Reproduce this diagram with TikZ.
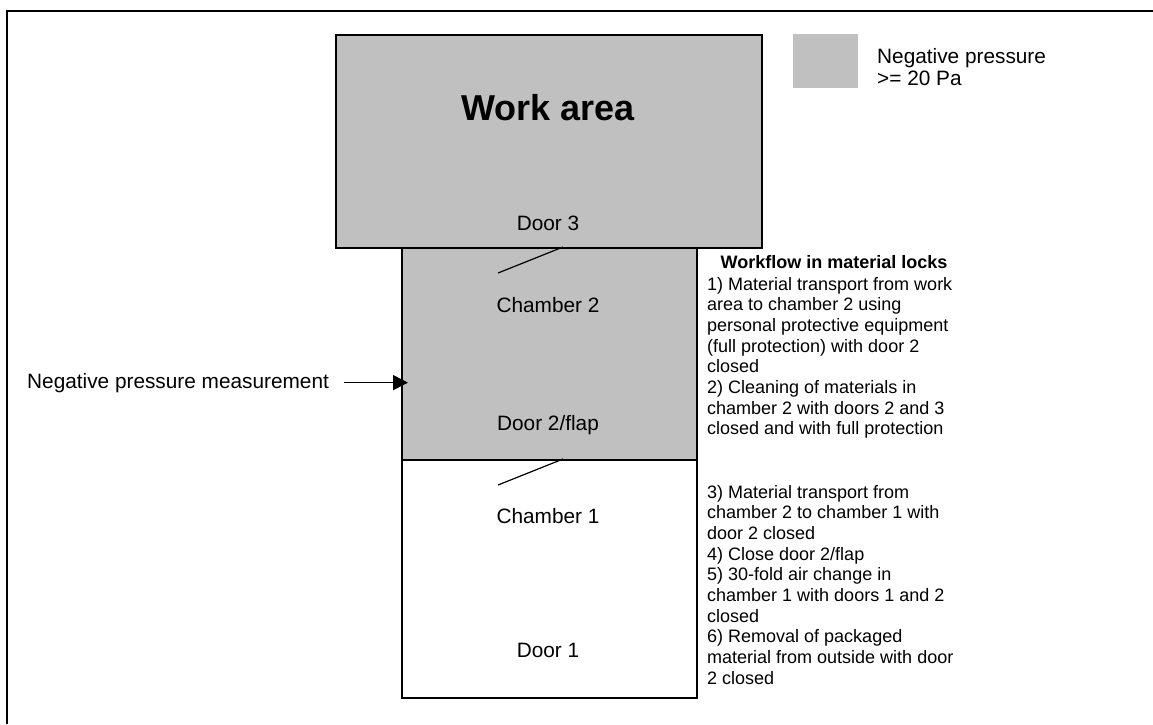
\documentclass[tikz,border=0pt]{standalone}
\usepackage{fontspec}
\setmainfont{Liberation Sans}
\usetikzlibrary{arrows.meta}
\definecolor{zone}{HTML}{C0C0C0}
\begin{document}
\begin{tikzpicture}[x=1pt,y=-1pt,
  room/.style={draw=black,line width=1.6pt,inner sep=0pt,anchor=north west},
  lbl/.style={font=\fontsize{20.8}{22}\selectfont,inner sep=0pt,anchor=base},
  flow/.style={font=\fontsize{18}{20.65}\selectfont,align=left,inner sep=0pt,anchor=north west},
  doorline/.style={line width=1.2pt},
  pointer/.style={line width=1.5pt,-{Triangle[length=15pt,width=15pt]}}]
\useasboundingbox (0,0) rectangle (1153,724);
\draw[line width=1.6pt] (7,724) -- (7,11) -- (1153,11);
% legend
\node[fill=zone,minimum width=65pt,minimum height=54pt,inner sep=0pt,anchor=north west] (key) at (793,34) {};
\node[font=\fontsize{20.8}{22}\selectfont,align=left,inner sep=0pt,anchor=north west] (keytext) at (877,48.5) {Negative pressure\\>= 20 Pa};
% rooms
\node[room,fill=zone,minimum width=426pt,minimum height=213pt] (work) at (335,34) {};
\node[room,fill=zone,minimum width=295pt,minimum height=212pt] (c2) at (401,247) {};
\node[room,fill=white,minimum width=295pt,minimum height=238pt] (c1) at (401,459) {};
% labels
\node[inner sep=0pt,anchor=base,font=\fontsize{36}{40}\selectfont\bfseries] (worklbl) at (548,120) {Work area};
\node[lbl] (door3) at (548,230) {Door 3};
\node[lbl] (c2lbl) at (548,312) {Chamber 2};
\node[lbl] (door2) at (548,430) {Door 2/flap};
\node[lbl] (c1lbl) at (548,523) {Chamber 1};
\node[lbl] (door1) at (548,657) {Door 1};
% door swings
\coordinate (d3a) at (563,247);
\coordinate (d3b) at (498,273);
\coordinate (d2a) at (563,459);
\coordinate (d2b) at (498,485);
\draw[doorline] (d3a) -- (d3b);
\draw[doorline] (d2a) -- (d2b);
% measurement
\node[lbl,anchor=base west] (meas) at (27,388) {Negative pressure measurement};
\draw[pointer,shorten <=15pt,shorten >=-7pt] (meas.east) -- (meas.east -| c2.west);
% workflow
\node[inner sep=0pt,anchor=base,font=\fontsize{18}{20.65}\selectfont\bfseries] (wftitle) at (834,268) {Workflow in material locks};
\node[flow] (wf1) at (707,277) {1) Material transport from work\\area to chamber 2 using\\personal protective equipment\\(full protection) with door 2\\closed\\2) Cleaning of materials in\\chamber 2 with doors 2 and 3\\closed and with full protection};
\node[flow] (wf2) at (707,485) {3) Material transport from\\chamber 2 to chamber 1 with\\door 2 closed\\4) Close door 2/flap\\5) 30-fold air change in\\chamber 1 with doors 1 and 2\\closed\\6) Removal of packaged\\material from outside with door\\2 closed};
\end{tikzpicture}
\end{document}
